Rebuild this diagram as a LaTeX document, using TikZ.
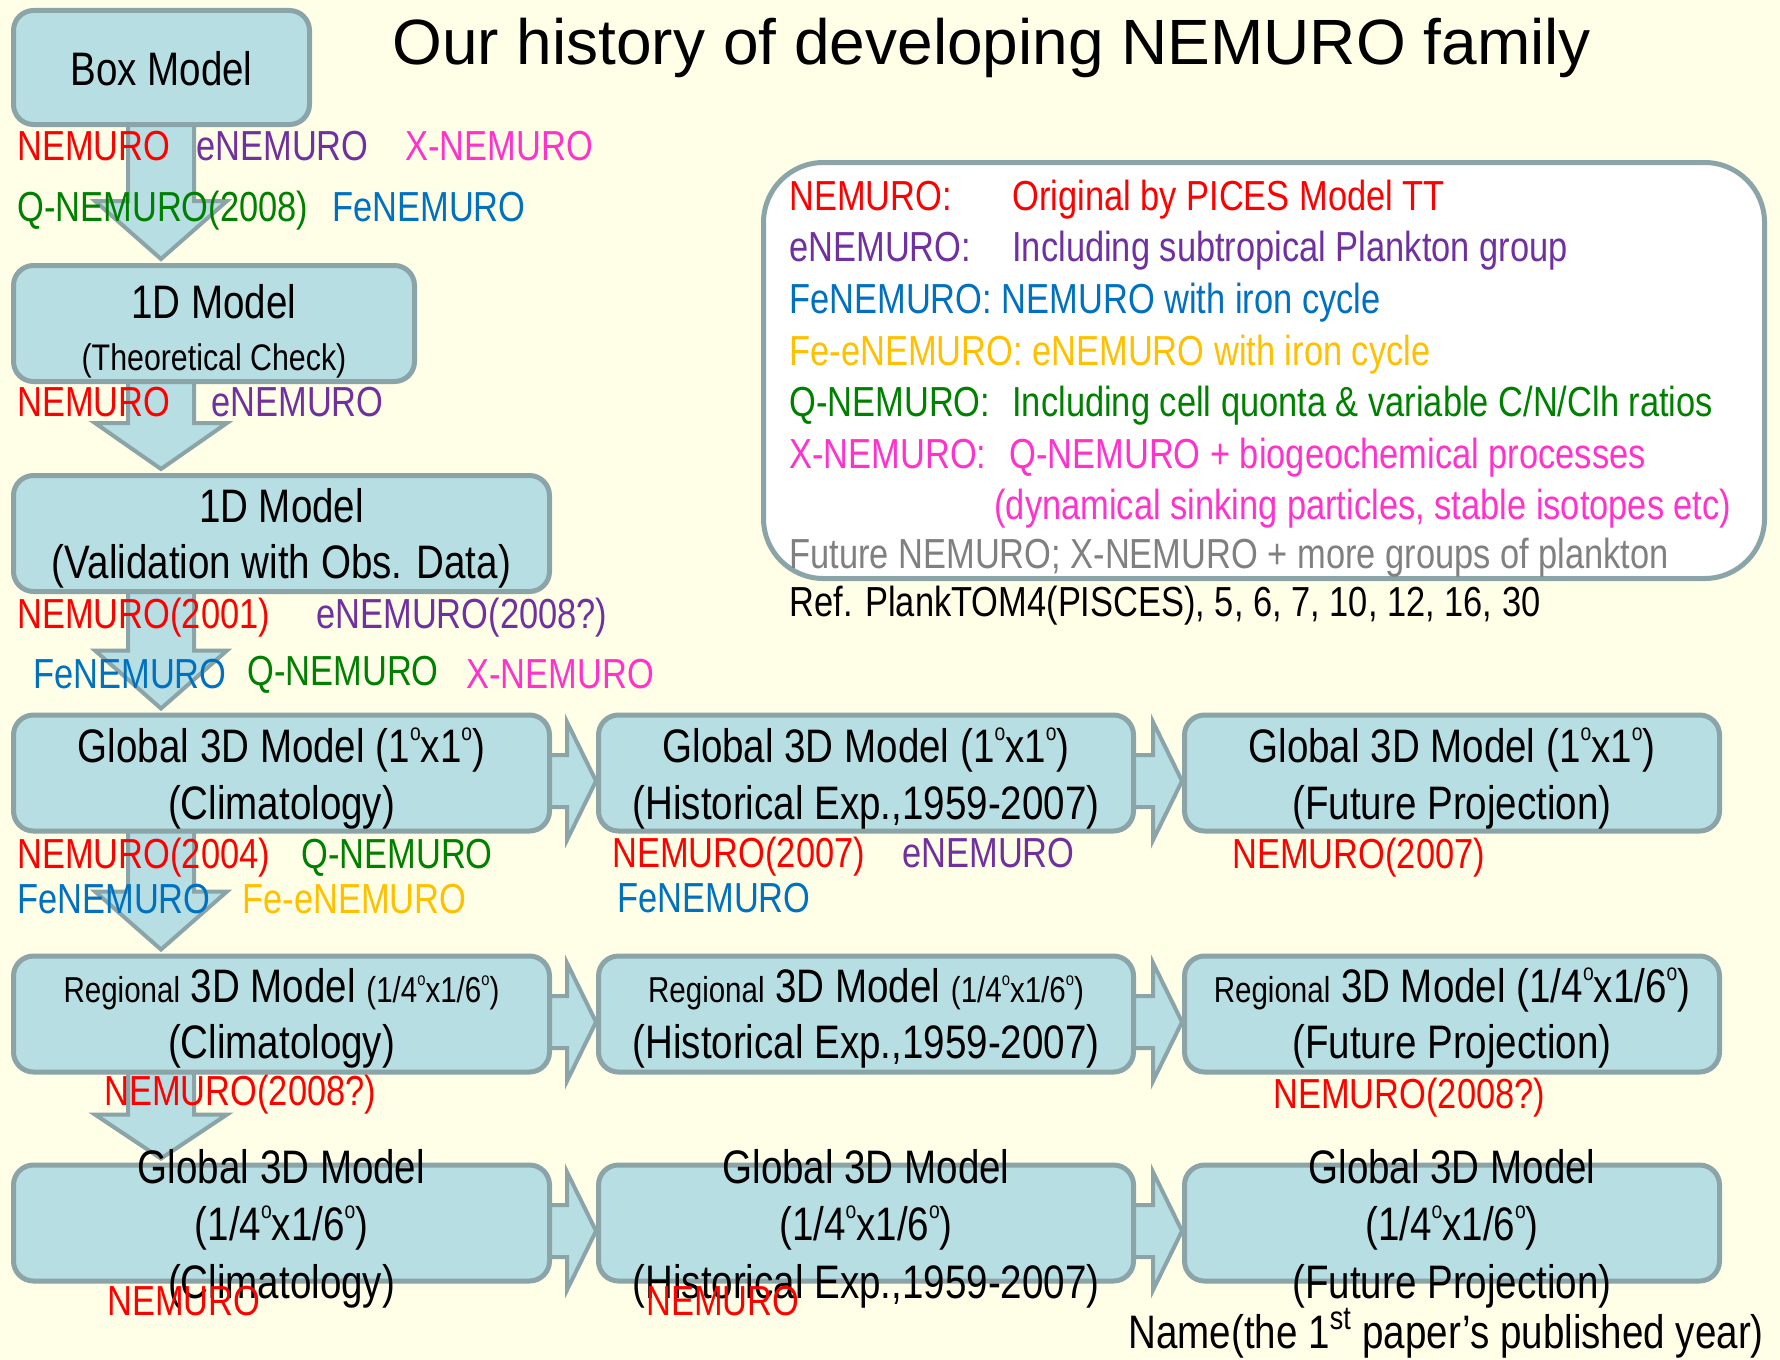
\documentclass[tikz,border=0pt]{standalone}
\usepackage{fontspec}
\usepackage{graphicx}
\setmainfont{Liberation Sans}[FakeStretch=0.82]
\newfontfamily\titlefont{Liberation Sans}
\usetikzlibrary{calc}
\usetikzlibrary{positioning}

\pgfdeclarelayer{bg}
\pgfdeclarelayer{back}
\pgfsetlayers{bg,back,main}

\definecolor{paper}{HTML}{FFFFE8}
\definecolor{boxfill}{HTML}{B7DEE3}
\definecolor{boxline}{HTML}{8AA4A8}
\definecolor{nred}{HTML}{FF0000}
\definecolor{npurple}{HTML}{7030A0}
\definecolor{nmagenta}{HTML}{FF33CC}
\definecolor{ngreen}{HTML}{008000}
\definecolor{nblue}{HTML}{0070C0}
\definecolor{norange}{HTML}{FFC000}
\definecolor{ngray}{HTML}{808080}

\newcommand{\degsup}{\raisebox{0.45em}{\scalebox{0.5}{o}}}
\newcommand{\smalltxt}[1]{{\fontsize{18}{22}\selectfont #1}}

\tikzset{
  mbox/.style={draw=boxline, fill=boxfill, line width=2.5pt, rounded corners=10pt,
    inner sep=0pt, minimum height=58pt},
  blockarrow/.style={draw=boxline, fill=boxfill, line width=2pt, line join=miter},
  btxt/.style={anchor=base, inner sep=0pt, font=\fontsize{23.5}{28}\selectfont},
  stxt/.style={anchor=base, inner sep=0pt, font=\fontsize{18.5}{22}\selectfont},
  lbl/.style={anchor=base west, inner sep=0pt, font=\fontsize{21}{25}\selectfont},
}

% block arrow going down along the axis, #3 = where the head starts
\newcommand{\downblock}[3]{%
  \draw[blockarrow] ($(axis |- #1.south)+(-33,-5)$) -- ($(axis |- #2.north)+(-33,-#3)$)
    -- ($(axis |- #2.north)+(-66,-#3)$) -- ($(axis |- #2.north)+(0,-4)$)
    -- ($(axis |- #2.north)+(66,-#3)$) -- ($(axis |- #2.north)+(33,-#3)$)
    -- ($(axis |- #1.south)+(33,-5)$) -- cycle;}
% block arrow going right
\newcommand{\rightblock}[2]{%
  \draw[blockarrow] ($(#1.east)+(-5,-18)$) -- ($(#2.west)+(-29,-18)$)
    -- ($(#2.west)+(-29,-51)$) -- ($(#2.west)+(0,8)$)
    -- ($(#2.west)+(-29,67)$) -- ($(#2.west)+(-29,34)$)
    -- ($(#1.east)+(-5,34)$) -- cycle;}

\begin{document}
\begin{tikzpicture}[x=0.5pt,y=-0.5pt]
    \useasboundingbox (0,0) rectangle (1780,1359);
    \begin{pgfonlayer}{bg}
    \fill[paper] (0,0) rectangle (1780,1359);
    \end{pgfonlayer}

    % title
    \node[anchor=base west, inner sep=0pt, font=\titlefont\fontsize{32}{38}\selectfont] (title) at (392,65) {Our history of developing NEMURO family};

    % the model boxes
    \node[mbox, minimum width=148pt, minimum height=57pt] (bm) at (161.5,67.5) {};
    \node[mbox, minimum width=200.5pt] (oned) at (214,323.5) {};
    \node[mbox, minimum width=268pt] (valid) at (281.5,533.5) {};
    \node[mbox, minimum width=268pt] (g1) at (281.5,773) {};
    \node[mbox, minimum width=267.5pt] (g2) at (866,773) {};
    \node[mbox, minimum width=267.5pt] (g3) at (1452,773) {};
    \node[mbox, minimum width=268pt] (r1) at (281.5,1014) {};
    \node[mbox, minimum width=267.5pt] (r2) at (866,1014) {};
    \node[mbox, minimum width=267.5pt] (r3) at (1452,1014) {};
    \node[mbox, minimum width=268pt] (q1) at (281.5,1223) {};
    \node[mbox, minimum width=267.5pt] (q2) at (866,1223) {};
    \node[mbox, minimum width=267.5pt] (q3) at (1452,1223) {};

    % the block arrows
    \coordinate (axis) at (161,0);
    \begin{pgfonlayer}{back}
    \downblock{bm}{oned}{62}
    \downblock{oned}{valid}{50}
    \downblock{valid}{g1}{62}
    \downblock{g1}{r1}{62}
    \downblock{r1}{q1}{48}
    \rightblock{g1}{g2}
    \rightblock{g2}{g3}
    \rightblock{r1}{r2}
    \rightblock{r2}{r3}
    \rightblock{q1}{q2}
    \rightblock{q2}{q3}
    \end{pgfonlayer}

    % texts in the boxes
    \node[btxt] (tbm) at (161.5,85) {Box Model};
    \node[btxt] (toned) at (214,318) {1D Model};
    \node[stxt] (toned2) at (214,370) {(Theoretical Check)};
    \node[btxt] (tvalid) at (281.5,522) {1D Model};
    \node[btxt] (tvalid2) at (281.5,578) {(Validation with Obs. Data)};
    \node[btxt] (tg1) at (281.5,762) {Global 3D Model (1\degsup x1\degsup)};
    \node[btxt] (tg1b) at (281.5,819) {(Climatology)};
    \node[btxt] (tg2) at (866,762) {Global 3D Model (1\degsup x1\degsup)};
    \node[btxt] (tg2b) at (866,819) {(Historical Exp.,1959-2007)};
    \node[btxt] (tg3) at (1452,762) {Global 3D Model (1\degsup x1\degsup)};
    \node[btxt] (tg3b) at (1452,819) {(Future Projection)};
    \node[btxt] (tr1) at (281.5,1002) {\smalltxt{Regional} 3D Model \smalltxt{(1/4\degsup x1/6\degsup)}};
    \node[btxt] (tr1b) at (281.5,1058) {(Climatology)};
    \node[btxt] (tr2) at (866,1002) {\smalltxt{Regional} 3D Model \smalltxt{(1/4\degsup x1/6\degsup)}};
    \node[btxt] (tr2b) at (866,1058) {(Historical Exp.,1959-2007)};
    \node[btxt] (tr3) at (1452,1002) {\smalltxt{Regional} 3D Model (1/4\degsup x1/6\degsup)};
    \node[btxt] (tr3b) at (1452,1058) {(Future Projection)};
    \node[btxt] (tq1) at (281.5,1183) {Global 3D Model};
    \node[btxt] (tq1b) at (281.5,1240) {(1/4\degsup x1/6\degsup)};
    \node[btxt] (tq1c) at (281.5,1298) {(Climatology)};
    \node[btxt] (tq2) at (866,1183) {Global 3D Model};
    \node[btxt] (tq2b) at (866,1240) {(1/4\degsup x1/6\degsup)};
    \node[btxt] (tq2c) at (866,1298) {(Historical Exp.,1959-2007)};
    \node[btxt] (tq3) at (1452,1183) {Global 3D Model};
    \node[btxt] (tq3b) at (1452,1240) {(1/4\degsup x1/6\degsup)};
    \node[btxt] (tq3c) at (1452,1298) {(Future Projection)};

    % model names under the boxes
    \node[lbl, nred] (a1) at (17,160) {NEMURO};
    \node[lbl, npurple] (a2) at (196,160) {eNEMURO};
    \node[lbl, nmagenta] (a3) at (405,160) {X-NEMURO};
    \node[lbl, ngreen] (a4) at (17,221) {Q-NEMURO(2008)};
    \node[lbl, nblue] (a5) at (332,221) {FeNEMURO};

    \node[lbl, nred] (b1) at (17,416) {NEMURO};
    \node[lbl, npurple] (b2) at (211,416) {eNEMURO};

    \node[lbl, nred] (c1) at (17,628) {NEMURO(2001)};
    \node[lbl, npurple] (c2) at (316,628) {eNEMURO(2008?)};
    \node[lbl, nblue] (c3) at (33,688) {FeNEMURO};
    \node[lbl, ngreen] (c4) at (247,685) {Q-NEMURO};
    \node[lbl, nmagenta] (c5) at (466,688) {X-NEMURO};

    \node[lbl, nred] (d1) at (17,868) {NEMURO(2004)};
    \node[lbl, ngreen] (d2) at (301,868) {Q-NEMURO};
    \node[lbl, nblue] (d3) at (17,913) {FeNEMURO};
    \node[lbl, norange] (d4) at (242,913) {Fe-eNEMURO};
    \node[lbl, nred] (d5) at (612,867) {NEMURO(2007)};
    \node[lbl, npurple] (d6) at (902,867) {eNEMURO};
    \node[lbl, nblue] (d7) at (617,912) {FeNEMURO};
    \node[lbl, nred] (d8) at (1232,868) {NEMURO(2007)};

    \node[lbl, nred] (e1) at (104,1105) {NEMURO(2008?)};
    \node[lbl, nred] (e2) at (1273,1108) {NEMURO(2008?)};

    \node[lbl, nred] (f1) at (107,1315) {NEMURO};
    \node[lbl, nred] (f2) at (646,1315) {NEMURO};

    % the legend
    \node[draw=boxline, fill=white, line width=2.5pt, rounded corners=30pt, inner sep=0pt,
      minimum width=500.5pt, minimum height=208pt] (legend) at (1264,370.5) {};
    \node[lbl, nred] (k1) at (789,210) {NEMURO:};
    \node[lbl, nred] (k1b) at (1012,210) {Original by PICES Model TT};
    \node[lbl, npurple] (k2) at (789,261) {eNEMURO:};
    \node[lbl, npurple] (k2b) at (1012,261) {Including subtropical Plankton group};
    \node[lbl, nblue] (k3) at (789,313) {FeNEMURO: NEMURO with iron cycle};
    \node[lbl, norange] (k4) at (789,365) {Fe-eNEMURO: eNEMURO with iron cycle};
    \node[lbl, ngreen] (k5) at (789,416) {Q-NEMURO:};
    \node[lbl, ngreen] (k5b) at (1012,416) {Including cell quonta \& variable C/N/Clh ratios};
    \node[lbl, nmagenta] (k6) at (789,468) {X-NEMURO:};
    \node[lbl, nmagenta] (k6b) at (1009,468) {Q-NEMURO + biogeochemical processes};
    \node[lbl, nmagenta] (k6c) at (994,519) {(dynamical sinking particles, stable isotopes etc)};
    \node[lbl, ngray] (k7) at (789,568) {Future NEMURO; X-NEMURO + more groups of plankton};
    \node[lbl] (ref) at (789,616) {Ref. PlankTOM4(PISCES), 5, 6, 7, 10, 12, 16, 30};

    \node[btxt, anchor=base west] (note) at (1128,1348) {Name(the 1\textsuperscript{st} paper's published year)};
\end{tikzpicture}
\end{document}
